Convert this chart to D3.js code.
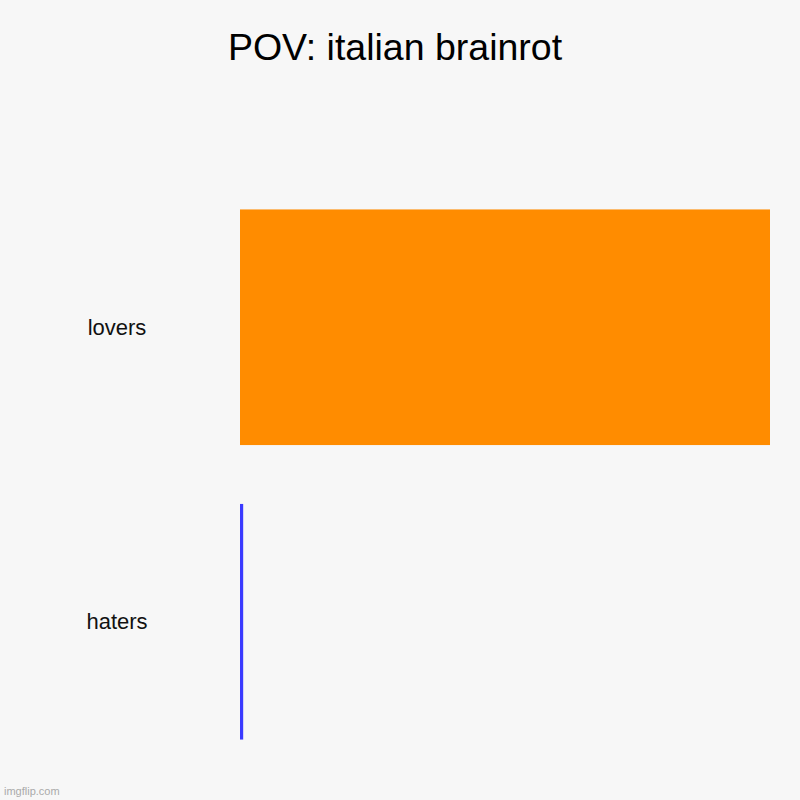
<!DOCTYPE html>
<html>
<head>
<meta charset="utf-8">
<script src="https://cdn.jsdelivr.net/npm/d3@7"></script>
<style>
  html, body { margin: 0; padding: 0; background: #f7f7f7; }
  svg { display: block; }
</style>
</head>
<body>
<script>
const title = "POV: italian brainrot";
const categories = ["lovers", "haters"];
const values = [100, 0.6];
const colors = ["#ff8c00", "#3a3aff"];

const W = 800, H = 800;
const svg = d3.select("body").append("svg")
  .attr("width", W).attr("height", H)
  .style("background", "#f7f7f7");

const x = d3.scaleLinear().domain([0, d3.max(values)]).range([240, 770]);
const y = d3.scaleBand().domain(categories).range([180, 769])
  .paddingInner(0.2).paddingOuter(0.1);

svg.append("text")
  .attr("x", 395).attr("y", 60)
  .attr("text-anchor", "middle")
  .attr("font-family", "Liberation Sans, Arial, sans-serif")
  .attr("font-size", 37.5)
  .attr("fill", "#000")
  .text(title);

svg.selectAll("rect.bar").data(categories).enter().append("rect")
  .attr("class", "bar")
  .attr("x", x(0))
  .attr("y", d => y(d))
  .attr("width", (d, i) => x(values[i]) - x(0))
  .attr("height", y.bandwidth())
  .attr("fill", (d, i) => colors[i]);

const yAxis = d3.axisLeft(y).tickSize(0).tickPadding(0);
const g = svg.append("g").attr("transform", "translate(117,0)").call(yAxis);
g.select(".domain").remove();
g.selectAll("text")
  .attr("text-anchor", "middle")
  .attr("x", 0)
  .attr("dy", "0.35em")
  .attr("font-family", "Liberation Sans, Arial, sans-serif")
  .attr("font-size", 22)
  .attr("fill", "#111");

svg.append("text")
  .attr("x", 4).attr("y", 795)
  .attr("font-family", "Liberation Sans, Arial, sans-serif")
  .attr("font-size", 11)
  .attr("fill", "#aaaaaa")
  .text("imgflip.com");
</script>
</body>
</html>
